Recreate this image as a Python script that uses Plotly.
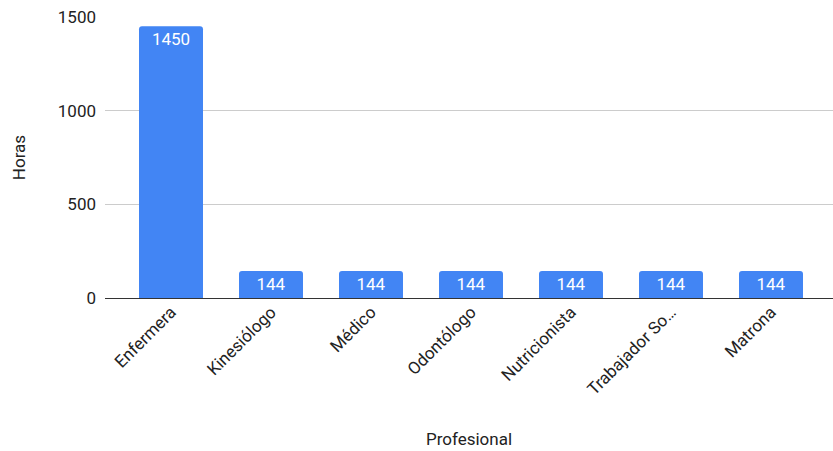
import plotly.graph_objects as go

categorias = ["Enfermera", "Kinesiólogo", "Médico", "Odontólogo", "Nutricionista", "Trabajador So…", "Matrona"]
horas = [1450, 144, 144, 144, 144, 144, 144]
y_ticks = [0, 500, 1000, 1500]

fig = go.Figure(go.Bar(
    x=list(range(len(categorias))),
    y=horas,
    width=0.64,
    marker=dict(color="#4285f4", line=dict(width=0), cornerradius=3),
    text=[str(v) for v in horas],
    textposition="inside",
    insidetextanchor="end",
    textangle=0,
    textfont=dict(color="white", size=17, family="Roboto"),
    cliponaxis=False,
))

fig.update_layout(
    width=833, height=451,
    margin=dict(l=105, r=0, t=17, b=153),
    paper_bgcolor="white", plot_bgcolor="white",
    font=dict(family="Roboto", size=17, color="#222222"),
    showlegend=False,
)
fig.update_xaxes(
    range=[-0.66, 6.62],
    tickmode="array",
    tickvals=list(range(len(categorias))),
    ticktext=categorias,
    tickangle=-45,
    showgrid=False,
    showline=False,
    ticks="",
    zeroline=False,
    title=dict(text="Profesional", font=dict(size=17, color="#222222"), standoff=35),
    automargin=False,
)
fig.update_yaxes(
    range=[0, 1500],
    tickmode="array",
    tickvals=y_ticks,
    ticktext=[str(v) for v in y_ticks],
    showgrid=True, gridcolor="#cccccc", gridwidth=1,
    zeroline=True, zerolinecolor="#333333", zerolinewidth=1,
    showline=False, ticks="",
    ticklabelstandoff=8,
    title=dict(text="Horas", font=dict(size=17, color="#222222"), standoff=27),
    automargin=False,
)

fig.write_html("out.html", config={"displayModeBar": False},
               post_script="document.body.style.margin='0';")
